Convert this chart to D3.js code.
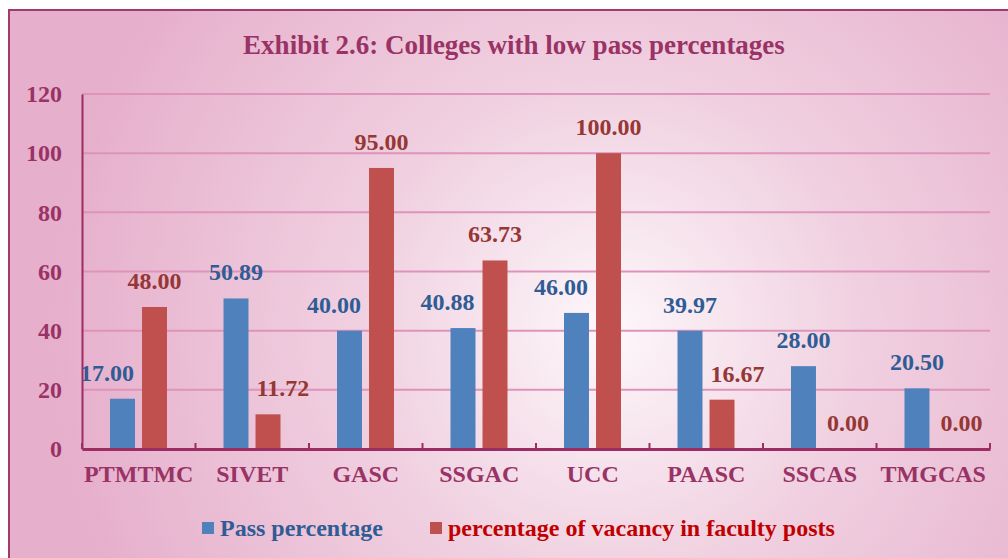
<!DOCTYPE html>
<html lang="en">
<head>
    <meta charset="UTF-8"/>
    <title>Colleges with low pass percentages</title>
    <script src="https://d3js.org/d3.v7.min.js"></script>
    <style>
        body { margin: 0; background: #ffffff; }
        text { font-family: "Liberation Serif", "Times New Roman", serif; font-weight: bold; }
    </style>
</head>
<body>
    <script>
        var w = 1008;
        var h = 558;

        var colleges = ["PTMTMC", "SIVET", "GASC", "SSGAC", "UCC", "PAASC", "SSCAS", "TMGCAS"];
        var passPct = [17.00, 50.89, 40.00, 40.88, 46.00, 39.97, 28.00, 20.50];
        var vacancyPct = [48.00, 11.72, 95.00, 63.73, 100.00, 16.67, 0.00, 0.00];
        var seriesNames = ["Pass percentage", "percentage of vacancy in faculty posts"];
        var yTicks = [0, 20, 40, 60, 80, 100, 120];

        // label placement (like Excel's collision shifting)
        var passAlign = ["end", "middle", "end", "end", "end", "middle", "middle", "middle"];
        var vacancyAlign = ["middle", "start", "middle", "middle", "middle", "start", "start", "start"];

        var plotLeft = 82, plotRight = 990, plotTop = 94, plotBottom = 449;

        var svg = d3.select("body")
            .append("svg")
            .attr("width", w)
            .attr("height", h);

        // Background gradient
        var defs = svg.append("defs");
        var grad = defs.append("radialGradient")
            .attr("id", "bg")
            .attr("gradientUnits", "userSpaceOnUse")
            .attr("cx", 610).attr("cy", 330).attr("r", 560);
        grad.append("stop").attr("offset", "0%").attr("stop-color", "#fdf7fa");
        grad.append("stop").attr("offset", "45%").attr("stop-color", "#f0d0e0");
        grad.append("stop").attr("offset", "100%").attr("stop-color", "#e6afcc");

        svg.append("rect")
            .attr("x", 9).attr("y", 10)
            .attr("width", 1010).attr("height", 560)
            .attr("fill", "url(#bg)")
            .attr("stroke", "#a23a6e")
            .attr("stroke-width", 2);

        // Title
        svg.append("text")
            .attr("x", 514).attr("y", 54)
            .attr("text-anchor", "middle")
            .attr("fill", "#993366")
            .style("font-size", "27px")
            .text("Exhibit 2.6: Colleges with low pass percentages");

        var x0 = d3.scaleBand().domain(colleges).range([plotLeft, plotRight]);
        var x1 = d3.scaleBand().domain([0, 1]).range([28, 85]).paddingInner(0.22);
        var y = d3.scaleLinear().domain([0, 120]).range([plotBottom, plotTop]);

        // Gridlines
        svg.append("g")
            .selectAll("line")
            .data(yTicks.slice(1))
            .enter().append("line")
            .attr("x1", plotLeft).attr("x2", plotRight)
            .attr("y1", function(d) { return y(d); })
            .attr("y2", function(d) { return y(d); })
            .attr("stroke", "#de93bb")
            .attr("stroke-width", 2);

        // Y axis
        var yAxis = svg.append("g")
            .attr("transform", "translate(" + plotLeft + ",0)")
            .call(d3.axisLeft(y).tickValues(yTicks).tickSize(0).tickPadding(20));
        yAxis.select(".domain").attr("stroke", "#9b2d62").attr("stroke-width", 2);
        yAxis.selectAll("text")
            .attr("fill", "#993366")
            .style("font-size", "24px");

        var colors = ["#4f81bd", "#c0504d"];
        var labelColors = ["#2f5c94", "#953735"];
        var series = [passPct, vacancyPct];
        var aligns = [passAlign, vacancyAlign];

        series.forEach(function(vals, s) {
            svg.append("g")
                .selectAll("rect")
                .data(vals)
                .enter().append("rect")
                .attr("x", function(d, i) { return x0(colleges[i]) + x1(s); })
                .attr("width", x1.bandwidth())
                .attr("y", function(d) { return y(d); })
                .attr("height", function(d) { return plotBottom - y(d); })
                .attr("fill", colors[s]);

            svg.append("g")
                .selectAll("text")
                .data(vals)
                .enter().append("text")
                .attr("x", function(d, i) {
                    var bx = x0(colleges[i]) + x1(s);
                    var a = aligns[s][i];
                    if (a === "end") return bx + x1.bandwidth() - 1;
                    if (a === "start") return d === 0 ? bx + 4 : bx + 1;
                    return bx + x1.bandwidth() / 2;
                })
                .attr("y", function(d) { return y(d) - 18; })
                .attr("text-anchor", function(d, i) { return aligns[s][i]; })
                .attr("fill", labelColors[s])
                .style("font-size", "24px")
                .text(function(d) { return d.toFixed(2); });
        });

        // X axis
        var xAxis = svg.append("g")
            .attr("transform", "translate(0," + plotBottom + ")")
            .call(d3.axisBottom(x0).tickSize(0).tickPadding(16));
        xAxis.select(".domain").attr("stroke", "#9b2d62").attr("stroke-width", 3);
        xAxis.selectAll("text")
            .attr("fill", "#993366")
            .style("font-size", "24px");
        svg.append("g")
            .selectAll("line")
            .data(colleges.concat(["end"]))
            .enter().append("line")
            .attr("x1", function(d, i) { return plotLeft + x0.step() * i; })
            .attr("x2", function(d, i) { return plotLeft + x0.step() * i; })
            .attr("y1", plotBottom - 6).attr("y2", plotBottom)
            .attr("stroke", "#9b2d62")
            .attr("stroke-width", 2);

        // Legend
        var legendX = [202, 430];
        var legendText = ["#2f5c94", "#c00000"];
        seriesNames.forEach(function(name, s) {
            svg.append("rect")
                .attr("x", legendX[s]).attr("y", 522)
                .attr("width", 12).attr("height", 12)
                .attr("fill", colors[s]);
            svg.append("text")
                .attr("x", legendX[s] + 18).attr("y", 536)
                .attr("fill", legendText[s])
                .style("font-size", "24px")
                .text(name);
        });
    </script>
</body>
</html>
